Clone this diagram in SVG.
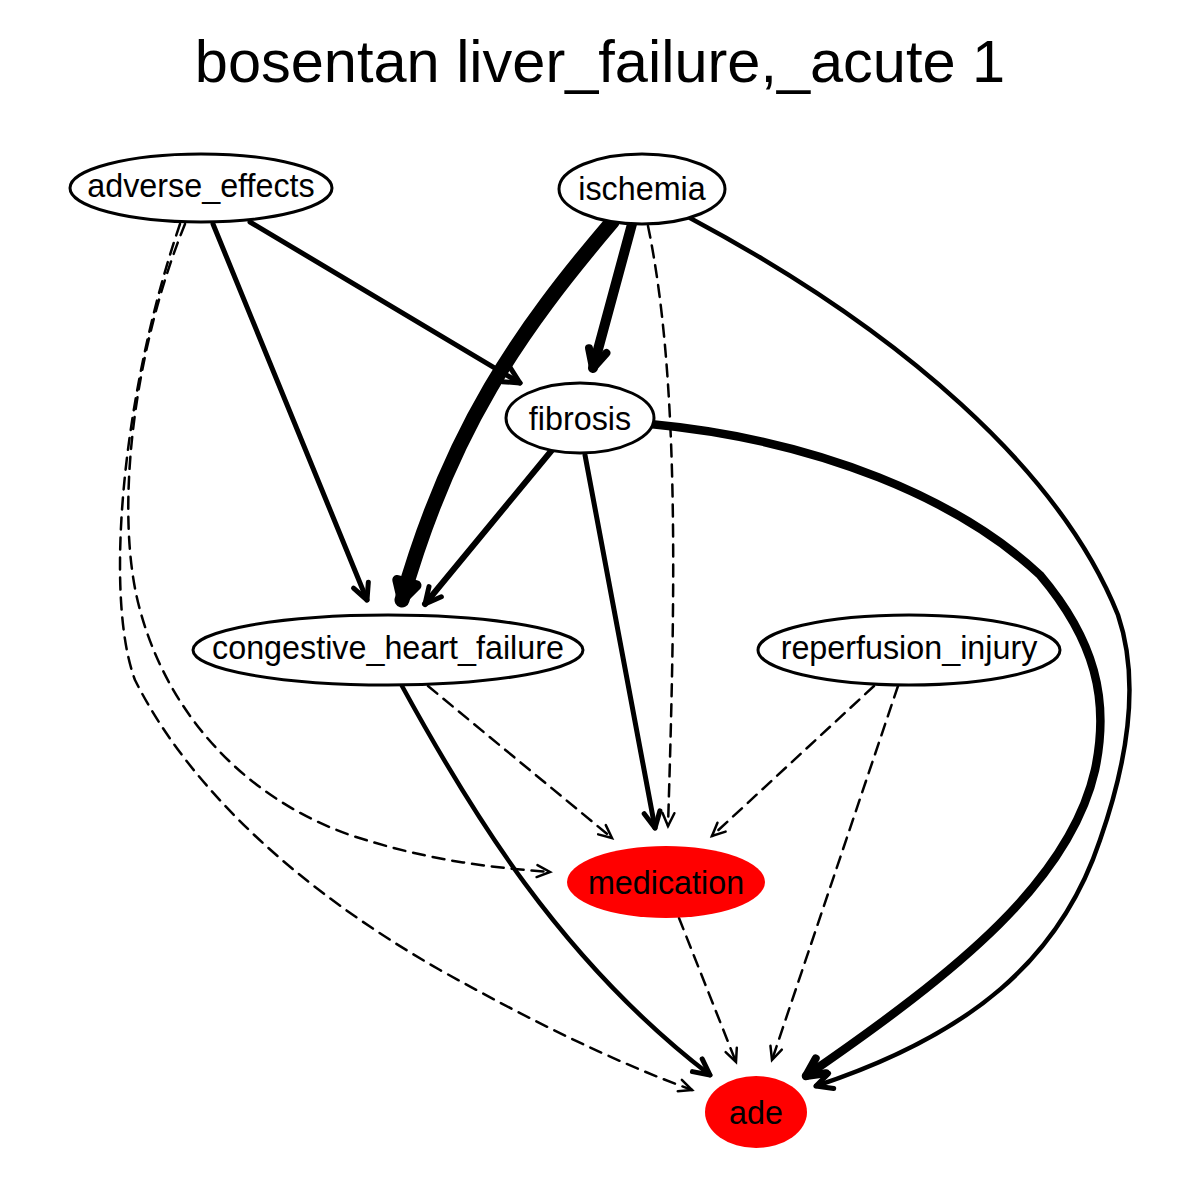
<svg xmlns="http://www.w3.org/2000/svg" width="1200" height="1200" viewBox="0 0 1200 1200">
<style>
.node ellipse{stroke:#000;stroke-width:3;fill:#fff}
.node ellipse.red{fill:#f00;stroke:none}
.node text{font-family:"Liberation Sans",Arial,sans-serif;font-size:32.3px;text-anchor:middle;fill:#000}
.title{font-family:"Liberation Sans",Arial,sans-serif;font-size:59.5px;text-anchor:middle;fill:#000}
.e{fill:none;stroke:#000;stroke-linecap:round}
.d{stroke-width:2.5;stroke-dasharray:12,8;marker-end:url(#hd)}
.s4{stroke-width:4.5;marker-end:url(#hm)}
.s5{stroke-width:5;marker-end:url(#hm)}
.s6{stroke-width:6;marker-end:url(#hm)}
.s8{stroke-width:8.5;marker-end:url(#ht)}
.s10{stroke-width:10;marker-end:url(#ht)}
.s14{stroke-width:15;marker-end:url(#hx)}
</style>
<defs>
<marker id="hd" markerUnits="userSpaceOnUse" viewBox="-20 -10 24 20" markerWidth="24" markerHeight="20" refX="0" refY="0" orient="auto">
<path d="M-13,-6 L0,0 L-13,6" fill="none" stroke="#000" stroke-width="2.5" stroke-linecap="round" stroke-linejoin="miter"/>
</marker>
<marker id="hm" markerUnits="userSpaceOnUse" viewBox="-24 -14 28 28" markerWidth="28" markerHeight="28" refX="0" refY="0" orient="auto">
<path d="M-16,-8 L0,0 L-16,8" fill="none" stroke="#000" stroke-width="5" stroke-linecap="round" stroke-linejoin="round"/>
</marker>
<marker id="ht" markerUnits="userSpaceOnUse" viewBox="-28 -16 32 32" markerWidth="32" markerHeight="32" refX="0" refY="0" orient="auto">
<path d="M-18,-9 L0,0 L-18,9" fill="none" stroke="#000" stroke-width="8" stroke-linecap="round" stroke-linejoin="round"/>
</marker>
<marker id="hx" markerUnits="userSpaceOnUse" viewBox="-30 -18 34 36" markerWidth="34" markerHeight="36" refX="0" refY="0" orient="auto">
<path d="M-18,-10 L0,0 L-18,10 Z" fill="#000" stroke="#000" stroke-width="10" stroke-linejoin="round"/>
</marker>
</defs>
<rect width="1200" height="1200" fill="#fff"/>
<text class="title" x="600" y="82">bosentan liver_failure,_acute 1</text>
<g id="edges">
<path class="e s5" d="M213,224 L367,600"/>
<path class="e s5" d="M250,222 L520,383"/>
<path class="e d" d="M185,224 C130,360 115,520 140,610 C170,720 250,800 350,835 C420,858 480,867 550,872"/>
<path class="e d" d="M180,224 C120,400 105,600 135,680 C190,790 300,890 440,970 C530,1020 610,1060 692,1090"/>
<path class="e s14" d="M612,222 C520,330 450,430 402,600"/>
<path class="e s10" d="M632,224 L593,368"/>
<path class="e d" d="M648,226 C680,380 675,600 668,826"/>
<path class="e s4" d="M690,218 C900,330 1060,470 1118,615 C1140,680 1128,760 1100,840 C1060,960 970,1035 816,1086"/>
<path class="e s6" d="M552,450 L425,604"/>
<path class="e s5" d="M585,455 L655,828"/>
<path class="e s8" d="M650,424 C820,440 960,500 1040,575 C1095,640 1110,700 1095,770 C1070,880 960,970 806,1076"/>
<path class="e d" d="M428,686 L612,838"/>
<path class="e s4" d="M402,686 C470,810 560,960 710,1075"/>
<path class="e d" d="M874,686 L712,836"/>
<path class="e d" d="M898,686 L772,1060"/>
<path class="e d" d="M679,918 L736,1062"/>
</g>
<g id="adverse_effects" class="node"><ellipse cx="201" cy="188" rx="131" ry="34"/><text x="201" y="197">adverse_effects</text></g>
<g id="ischemia" class="node"><ellipse cx="642" cy="189" rx="83" ry="35"/><text x="642" y="200">ischemia</text></g>
<g id="fibrosis" class="node"><ellipse cx="580" cy="418" rx="74" ry="35"/><text x="580" y="430">fibrosis</text></g>
<g id="congestive_heart_failure" class="node"><ellipse cx="388" cy="650" rx="195" ry="35"/><text x="388" y="659">congestive_heart_failure</text></g>
<g id="reperfusion_injury" class="node"><ellipse cx="909" cy="650" rx="151" ry="35"/><text x="909" y="659">reperfusion_injury</text></g>
<g id="medication" class="node"><ellipse class="red" cx="666" cy="882" rx="99" ry="36"/><text x="666" y="894">medication</text></g>
<g id="ade" class="node"><ellipse class="red" cx="756" cy="1112" rx="51" ry="36"/><text x="756" y="1124">ade</text></g>
</svg>
